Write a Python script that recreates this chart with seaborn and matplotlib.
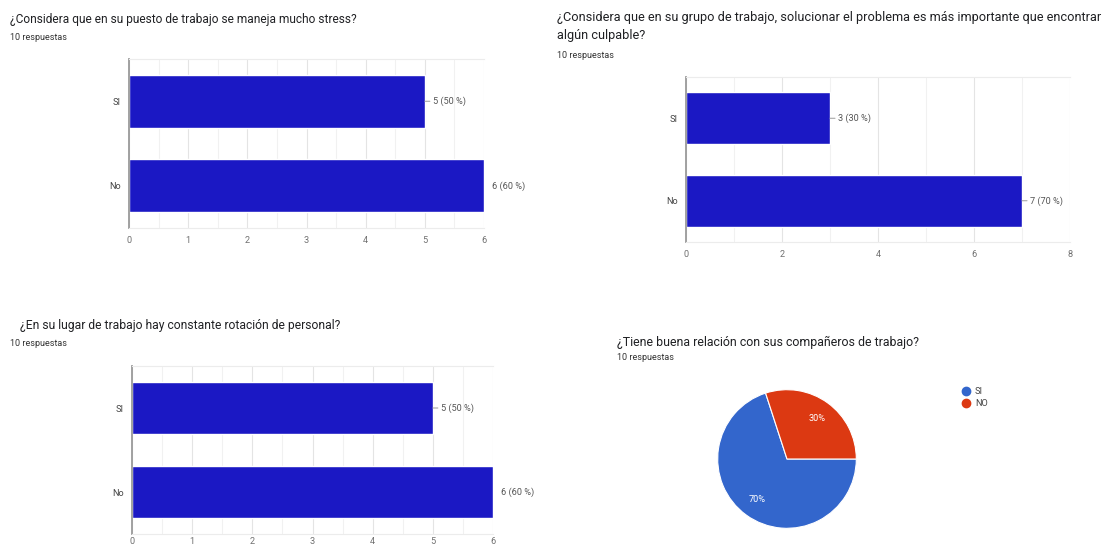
import matplotlib
matplotlib.use("Agg")
import matplotlib.pyplot as plt
from matplotlib.lines import Line2D
import seaborn as sns
import pandas as pd

# ---------------- data ----------------
cats = ["SI", "No"]

q1_title = "¿Considera que en su puesto de trabajo se maneja mucho stress?"
q1_vals = [5, 6]
q1_labels = ["5 (50 %)", "6 (60 %)"]

q2_title = "¿Considera que en su grupo de trabajo, solucionar el problema es más importante que encontrar\nalgún culpable?"
q2_vals = [3, 7]
q2_labels = ["3 (30 %)", "7 (70 %)"]

q3_title = "¿En su lugar de trabajo hay constante rotación de personal?"
q3_vals = [5, 6]
q3_labels = ["5 (50 %)", "6 (60 %)"]

q4_title = "¿Tiene buena relación con sus compañeros de trabajo?"
pie_cats = ["SI", "NO"]
pie_vals = [7, 3]

resp_text = "10 respuestas"

# ---------------- style ----------------
sns.set_theme(style="white")
plt.rcParams["font.family"] = ["Roboto", "DejaVu Sans"]

W, H = 1110, 548
BAR = "#1b18c4"
PIE_COLORS = ["#3366cc", "#dc3912"]
TXT = "#202124"
GREY = "#555555"
FS_SMALL = 6.6

fig = plt.figure(figsize=(W / 100, H / 100), dpi=100)
fig.patch.set_facecolor("white")


def px_axes(l, t, r, b):
    return fig.add_axes([l / W, 1 - b / H, (r - l) / W, (b - t) / H])


def bar_panel(rect, vals, labels, xmax, major, minor, xpad=6):
    ax = px_axes(*rect)
    df = pd.DataFrame({"cat": cats, "val": vals})
    sns.barplot(data=df, x="val", y="cat", orient="h", color=BAR,
                saturation=1, width=0.63, ax=ax)
    ax.set_xlim(0, xmax)
    ax.set_ylim(1.5, -0.5)
    ax.set_xlabel("")
    ax.set_ylabel("")
    ax.set_xticks(major)
    ax.set_xticks(minor, minor=True)
    ax.set_axisbelow(True)
    ax.grid(axis="x", which="major", color="#e4e4e4", lw=0.8)
    ax.grid(axis="x", which="minor", color="#f1f1f1", lw=0.8)
    ax.grid(axis="y", visible=False)
    ax.tick_params(which="both", length=0)
    ax.tick_params(axis="x", pad=xpad, labelsize=FS_SMALL, labelcolor="#707070")
    ax.tick_params(axis="y", pad=6, labelsize=FS_SMALL, labelcolor="#444444")
    for s in ["top", "bottom", "right"]:
        ax.spines[s].set_color("#ececec")
        ax.spines[s].set_linewidth(0.8)
    ax.spines["right"].set_visible(False)
    ax.spines["left"].set_color("#9a9a9a")
    ax.spines["left"].set_linewidth(1.3)
    for i, (v, lab) in enumerate(zip(vals, labels)):
        kw = dict(xy=(v, i), xytext=(6, 0), textcoords="offset points",
                  va="center", ha="left", fontsize=FS_SMALL, color=GREY,
                  annotation_clip=False)
        if v < xmax:
            kw["arrowprops"] = dict(arrowstyle="-", color="#999999", lw=0.7,
                                    shrinkA=0, shrinkB=0)
        ax.annotate(lab, **kw)
    return ax


def title(x, y, txt, ry, fs, rx=None):
    fig.text(x / W, 1 - y / H, txt, fontsize=fs, color=TXT, va="center",
             ha="left", linespacing=1.5)
    fig.text((rx if rx is not None else x) / W, 1 - ry / H, resp_text, fontsize=6.5,
             color="#333333", va="center", ha="left")


# panel 1
title(10, 19, q1_title, 37, 8.55)
bar_panel((129, 59, 484, 228), q1_vals, q1_labels, 6,
          [0, 1, 2, 3, 4, 5, 6], [0.5, 1.5, 2.5, 3.5, 4.5, 5.5])

# panel 2
title(557, 27, q2_title, 55, 9.2)
bar_panel((686, 77, 1070, 242), q2_vals, q2_labels, 8,
          [0, 2, 4, 6, 8], [1, 3, 5, 7])

# panel 3
title(20, 326, q3_title, 343, 8.7, rx=10)
bar_panel((132, 366, 493, 534), q3_vals, q3_labels, 6,
          [0, 1, 2, 3, 4, 5, 6], [0.5, 1.5, 2.5, 3.5, 4.5, 5.5], xpad=2)

# panel 4 (pie)
title(617, 342, q4_title, 358, 8.9)
pax = px_axes(717, 389, 857, 529)
pax.pie(pie_vals, colors=PIE_COLORS, startangle=108, counterclock=True,
        autopct="%1.0f%%", pctdistance=0.73,
        wedgeprops=dict(edgecolor="white", linewidth=0.8),
        textprops=dict(color="white", fontsize=FS_SMALL))
pax.set_xlim(-1.01, 1.01)
pax.set_ylim(-1.01, 1.01)
pax.set_aspect("equal")

handles = [Line2D([], [], marker="o", ls="", color=c, markersize=6) for c in PIE_COLORS]
fig.legend(handles, pie_cats, loc="upper left", bbox_to_anchor=(962 / W, 1 - 387 / H),
           frameon=False, fontsize=FS_SMALL, handlelength=0.9, handletextpad=0.5,
           labelspacing=0.35, borderaxespad=0, borderpad=0, labelcolor="#444444")

fig.savefig("out.png", dpi=100, facecolor="white")
